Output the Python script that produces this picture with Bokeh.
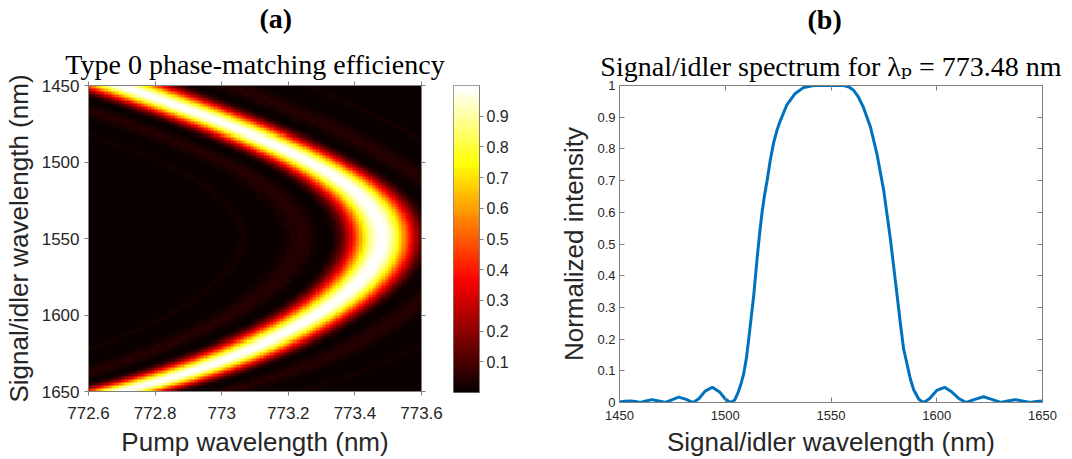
import numpy as np
from bokeh.plotting import figure
from bokeh.layouts import row
from bokeh.models import (Range1d, LinearAxis, FixedTicker, PrintfTickFormatter,
                          LinearColorMapper, Title, CustomLabelingPolicy)
from bokeh.embed import file_html
from bokeh.resources import INLINE

# ---------------- panel (a): phase-matching ridge ----------------
ridge_signal_nm = [1450, 1460, 1470, 1480, 1490, 1500, 1510, 1520, 1530, 1540, 1550,
                   1560, 1570, 1580, 1590, 1600, 1612, 1623, 1633.5, 1644, 1650]
ridge_pump_nm = [772.70, 772.84, 772.96, 773.07, 773.17, 773.27, 773.35, 773.41, 773.455,
                 773.48, 773.485, 773.475, 773.445, 773.40, 773.355, 773.295, 773.20,
                 773.09, 772.96, 772.80, 772.72]
# half-width (pump nm) from ridge to first zero of the sinc^2 band
width_signal_nm = [1450, 1500, 1550, 1600, 1650]
width_pump_nm = [0.23, 0.18, 0.17, 0.18, 0.22]
pump_range_nm = [772.6, 773.6]
signal_range_nm = [1450, 1650]
pump_ticks = [772.6, 772.8, 773.0, 773.2, 773.4, 773.6]
signal_ticks = [1450, 1500, 1550, 1600, 1650]
cbar_ticks = [0.1, 0.2, 0.3, 0.4, 0.5, 0.6, 0.7, 0.8, 0.9]
cbar_limits = [0.0, 1.0]

# ---------------- panel (b): spectrum at lambda_p = 773.48 nm ----------------
spec_signal_nm = [1450, 1452.5, 1455.2, 1457.5, 1459.9, 1462.5, 1465.4, 1468.5, 1471.7,
                  1475.0, 1478.0, 1481.5, 1484.8, 1487.5, 1490.5, 1493.9, 1497.5, 1500.0,
                  1502.4, 1504.5, 1506.0, 1507.5, 1508.7, 1510.0, 1511.1, 1512.3, 1513.5,
                  1515.0, 1516.2, 1517.4, 1518.6, 1519.8, 1521.3, 1522.9, 1524.5, 1526.1,
                  1529.2, 1533.1, 1537.1, 1541.8, 1549.7, 1556.0, 1558.5, 1560.7, 1563.0,
                  1565.4, 1568.6, 1571.7, 1574.9, 1578.0, 1580.4, 1582.8, 1584.3, 1585.9,
                  1587.5, 1589.1, 1591.5, 1593.8, 1596.5, 1600.0, 1603.7, 1607.0, 1610.5,
                  1613.9, 1618.0, 1622.1, 1626.0, 1630.3, 1633.5, 1637.1, 1640.5, 1644.2,
                  1647.0, 1650.0]
spec_intensity = [0.002, 0.004, 0.005, 0.003, 0.0, 0.005, 0.009, 0.005, 0.0,
                  0.009, 0.017, 0.010, 0.0, 0.012, 0.036, 0.048, 0.032, 0.011,
                  0.0, 0.008, 0.03, 0.06, 0.09, 0.14, 0.20, 0.27, 0.34,
                  0.45, 0.53, 0.60, 0.655, 0.70, 0.765, 0.82, 0.86, 0.89,
                  0.94, 0.975, 0.994, 1.0, 1.0, 1.0, 0.995, 0.985, 0.963,
                  0.93, 0.87, 0.785, 0.67, 0.52, 0.386, 0.25, 0.17, 0.123,
                  0.075, 0.04, 0.01, 0.0, 0.012, 0.038, 0.048, 0.034, 0.012,
                  0.0, 0.010, 0.018, 0.010, 0.0, 0.005, 0.009, 0.005, 0.0,
                  0.003, 0.005]
spec_xticks = [1450, 1500, 1550, 1600, 1650]
spec_yticks = [0, 0.1, 0.2, 0.3, 0.4, 0.5, 0.6, 0.7, 0.8, 0.9, 1]

SANS = "Liberation Sans"
SERIF = "'Liberation Serif', 'DejaVu Serif', serif"
AXIS_COLOR = "#7f7f7f"
TEXT_COLOR = "#262626"


def hot_palette(m=64):
    n = int(3 * m / 8)
    pal = []
    for i in range(m):
        r = (i + 1) / n if i < n else 1.0
        g = 0.0 if i < n else ((i - n + 1) / n if i < 2 * n else 1.0)
        b = 0.0 if i < 2 * n else (i - 2 * n + 1) / (m - 2 * n)
        pal.append("#%02x%02x%02x" % (round(r * 255), round(g * 255), round(b * 255)))
    return pal


def style_axis(ax, ticks, size, tick_in, tick_out, standoff, label=None,
               label_size="26px", label_standoff=5, hide_labels=False):
    ax.ticker = FixedTicker(ticks=ticks)
    ax.formatter = PrintfTickFormatter(format="%g")
    ax.minor_tick_line_color = None
    ax.major_tick_in = tick_in
    ax.major_tick_out = tick_out
    ax.axis_line_color = AXIS_COLOR
    ax.axis_line_width = 1
    ax.major_tick_line_color = AXIS_COLOR
    ax.major_label_text_font = SANS
    ax.major_label_text_color = TEXT_COLOR
    if hide_labels:
        ax.major_label_text_font_size = "1px"
        ax.major_label_standoff = 0
        ax.major_label_policy = CustomLabelingPolicy(code="return new Set()")
    else:
        ax.major_label_text_font_size = size
        ax.major_label_standoff = standoff
    if label is not None:
        ax.axis_label = label
        ax.axis_label_text_font = SANS
        ax.axis_label_text_font_size = label_size
        ax.axis_label_text_font_style = "normal"
        ax.axis_label_text_color = TEXT_COLOR
        ax.axis_label_standoff = label_standoff


def spacer_axis(ticks, size):
    # invisible axis (no line, no visible ticks, no labels) that only reserves room between two titles
    ax = LinearAxis()
    style_axis(ax, ticks, "1px", 0, size, 0, hide_labels=True)
    ax.axis_line_color = None
    ax.major_tick_line_color = None
    return ax


# ---------------- panel (a) ----------------
n_p, n_s = 101, 101
lp = np.linspace(pump_range_nm[0], pump_range_nm[1], n_p)
ls = np.linspace(signal_range_nm[0], signal_range_nm[1], n_s)
coef = np.polyfit(np.array(ridge_signal_nm) - 1550.0, np.array(ridge_pump_nm), 6)
ridge = np.polyval(coef, ls - 1550.0)
half_w = np.interp(ls, width_signal_nm, width_pump_nm)
eff = np.sinc((lp[None, :] - ridge[:, None]) / half_w[:, None]) ** 2

mapper = LinearColorMapper(palette=hot_palette(64), low=cbar_limits[0], high=cbar_limits[1])

p1 = figure(width=450, height=459, title=None,
            x_range=Range1d(pump_range_nm[0], pump_range_nm[1]),
            y_range=Range1d(signal_range_nm[1], signal_range_nm[0]),
            output_backend="svg", toolbar_location=None,
            min_border_left=87, min_border_right=29, min_border_top=85, min_border_bottom=67)
p1.frame_align = False
p1.outline_line_color = None
p1.grid.visible = False
p1.image(image=[eff], x=pump_range_nm[0], y=signal_range_nm[0],
         dw=pump_range_nm[1] - pump_range_nm[0], dh=signal_range_nm[1] - signal_range_nm[0],
         color_mapper=mapper)

style_axis(p1.xaxis[0], pump_ticks, "17px", 0, 4, 11, label="Pump wavelength (nm)", label_standoff=5)
style_axis(p1.yaxis[0], signal_ticks, "17px", 0, 4, 5, label="Signal/idler wavelength (nm)", label_standoff=5)
ax_top1 = LinearAxis()
style_axis(ax_top1, pump_ticks, "1px", 0, 4, 0, hide_labels=True)
p1.add_layout(ax_top1, "above")
ax_right1 = LinearAxis()
style_axis(ax_right1, signal_ticks, "1px", 0, 4, 0, hide_labels=True)
p1.add_layout(ax_right1, "right")

p1.add_layout(Title(text="Type 0 phase-matching efficiency", align="center",
                    text_font=SERIF, text_font_size="28px", text_font_style="normal",
                    text_color="black", standoff=-4), "above")
p1.add_layout(spacer_axis(pump_ticks, 11), "above")
p1.add_layout(Title(text="(a)", align="left", offset=171,
                    text_font=SERIF, text_font_size="28px", text_font_style="bold",
                    text_color="black", standoff=0), "above")

# ---------------- colour bar of panel (a) ----------------
cbar_levels = np.linspace(cbar_limits[0], cbar_limits[1], 64).reshape(-1, 1)
pcb = figure(width=90, height=459, title=None,
             x_range=Range1d(0, 1), y_range=Range1d(cbar_limits[0], cbar_limits[1]),
             output_backend="svg", toolbar_location=None,
             x_axis_location=None, y_axis_location="right",
             min_border_left=3, min_border_right=61, min_border_top=85, min_border_bottom=67)
pcb.frame_align = False
pcb.grid.visible = False
pcb.outline_line_color = AXIS_COLOR
pcb.image(image=[cbar_levels], x=0, y=cbar_limits[0], dw=1, dh=cbar_limits[1] - cbar_limits[0],
          color_mapper=mapper)
style_axis(pcb.yaxis[0], cbar_ticks, "16px", 0, 4, 3)

# ---------------- panel (b) ----------------
p2 = figure(width=532, height=459, title=None,
            x_range=Range1d(spec_xticks[0], spec_xticks[-1]),
            y_range=Range1d(spec_yticks[0], spec_yticks[-1]),
            output_backend="svg", toolbar_location=None,
            min_border_left=79, min_border_right=30, min_border_top=85, min_border_bottom=57)
p2.frame_align = False
p2.outline_line_color = None
p2.grid.visible = False
p2.line(spec_signal_nm, spec_intensity, line_width=3, line_color="#0072BD")

style_axis(p2.xaxis[0], spec_xticks, "13px", 5, 0, 8, label="Signal/idler wavelength (nm)", label_standoff=4)
style_axis(p2.yaxis[0], spec_yticks, "13px", 5, 0, 4, label="Normalized intensity", label_standoff=5)
ax_top2 = LinearAxis()
style_axis(ax_top2, spec_xticks, "1px", 5, 0, 0, hide_labels=True)
p2.add_layout(ax_top2, "above")
ax_right2 = LinearAxis()
style_axis(ax_right2, spec_yticks, "1px", 5, 0, 0, hide_labels=True)
p2.add_layout(ax_right2, "right")

p2.add_layout(Title(text="Signal/idler spectrum for \u03bb\u209a = 773.48 nm", align="center",
                    text_font=SERIF, text_font_size="28px", text_font_style="normal",
                    text_color="black", standoff=0), "above")
p2.add_layout(spacer_axis(spec_xticks, 10), "above")
p2.add_layout(Title(text="(b)", align="left", offset=188,
                    text_font=SERIF, text_font_size="28px", text_font_style="bold",
                    text_color="black", standoff=0), "above")

layout = row(p1, pcb, p2, spacing=0)
open("out.html", "w").write(file_html(layout, INLINE))
